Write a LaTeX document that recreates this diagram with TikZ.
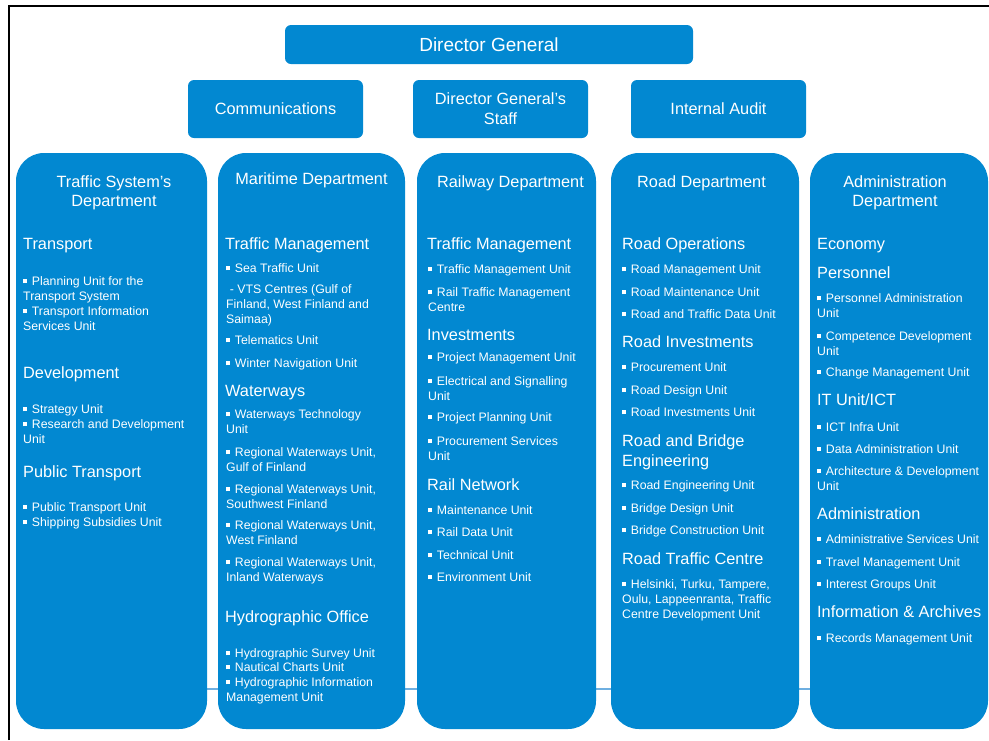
\documentclass[tikz,border=0pt]{standalone}
\usepackage{fontspec}
\setmainfont{Liberation Sans}

\definecolor{vblue}{RGB}{2,136,209}
\definecolor{vline}{RGB}{110,175,225}
\newcommand{\sq}{\rule[0.14em]{0.33em}{0.33em}\hspace{0.38em}}

\tikzset{
  topbox/.style={fill=vblue, rounded corners=6pt, text=white, inner sep=0pt,
    align=center, font=\fontsize{16.3}{20}\selectfont},
  colbox/.style={fill=vblue, rounded corners=28pt, inner sep=0pt},
  depttitle/.style={text=white, anchor=base, align=center, inner sep=0pt,
    font=\fontsize{16.3}{19.5}\selectfont},
  secthead/.style={text=white, anchor=base west, align=left, inner sep=0pt,
    font=\fontsize{16.3}{20}\selectfont},
  unititem/.style={text=white, anchor=base west, align=left, inner sep=0pt,
    font=\fontsize{12.3}{15}\selectfont},
}

\begin{document}
\begin{tikzpicture}[x=1pt,y=-1pt]
\useasboundingbox (0,0) rectangle (989,740);
\draw[line width=1.5pt] (9,740) -- (9,6) -- (989,6);

% line behind the departments
\coordinate (lineL) at (207,689);
\coordinate (lineR) at (810,689);
\draw[vline, line width=1.2pt] (lineL) -- (lineR);

% top level
\node[topbox, minimum width=408pt, minimum height=39pt, font=\fontsize{19}{22}\selectfont] (dg) at (489,44.5) {Director General};
\node[topbox, minimum width=175pt, minimum height=58pt] (comm) at (275.5,109) {Communications};
\node[topbox, minimum width=175pt, minimum height=58pt] (staff) at (500.5,109) {Director General's\\Staff};
\node[topbox, minimum width=175pt, minimum height=58pt] (audit) at (718.5,109) {Internal Audit};

% departments
\node[colbox, minimum width=191pt, minimum height=576pt] (col1) at (111.5,441) {};
\node[colbox, minimum width=187pt, minimum height=576pt] (col2) at (311.5,441) {};
\node[colbox, minimum width=179pt, minimum height=576pt] (col3) at (506.5,441) {};
\node[colbox, minimum width=188pt, minimum height=576pt] (col4) at (705,441) {};
\node[colbox, minimum width=178pt, minimum height=576pt] (col5) at (899,441) {};

% Traffic System's Department (multi-line nodes sit on their last line)
\node[depttitle] (t1) at (114,206.5) {Traffic System's\\Department};
\node[secthead] (s11) at (23,249) {Transport};
\node[unititem] (u111) at (23,300) {\sq Planning Unit for the\\Transport System};
\node[unititem] (u112) at (23,330) {\sq Transport Information\\Services Unit};
\node[secthead] (s12) at (23,378) {Development};
\node[unititem] (u121) at (23,413) {\sq Strategy Unit};
\node[unititem] (u122) at (23,443) {\sq Research and Development\\Unit};
\node[secthead] (s13) at (23,477) {Public Transport};
\node[unititem] (u131) at (23,511) {\sq Public Transport Unit};
\node[unititem] (u132) at (23,526) {\sq Shipping Subsidies Unit};

% Maritime Department
\node[depttitle] (t2) at (311.5,184) {Maritime Department};
\node[secthead] (s21) at (225,249) {Traffic Management};
\node[unititem] (u211) at (226,272) {\sq Sea Traffic Unit};
\node[unititem] (u212) at (226,323) {\hspace{0.3em}- VTS Centres (Gulf of\\Finland, West Finland and\\Saimaa)};
\node[unititem] (u213) at (226,344) {\sq Telematics Unit};
\node[unititem] (u214) at (226,367) {\sq Winter Navigation Unit};
\node[secthead] (s22) at (225,396) {Waterways};
\node[unititem] (u221) at (226,433) {\sq Waterways Technology\\Unit};
\node[unititem] (u222) at (226,471) {\sq Regional Waterways Unit,\\Gulf of Finland};
\node[unititem] (u223) at (226,508) {\sq Regional Waterways Unit,\\Southwest Finland};
\node[unititem] (u224) at (226,544) {\sq Regional Waterways Unit,\\West Finland};
\node[unititem] (u225) at (226,581) {\sq Regional Waterways Unit,\\Inland Waterways};
\node[secthead] (s23) at (225,622) {Hydrographic Office};
\node[unititem] (u231) at (226,657) {\sq Hydrographic Survey Unit};
\node[unititem] (u232) at (226,671) {\sq Nautical Charts Unit};
\node[unititem] (u233) at (226,701) {\sq Hydrographic Information\\Management Unit};

% Railway Department
\node[depttitle] (t3) at (510.5,187) {Railway Department};
\node[secthead] (s31) at (427,249) {Traffic Management};
\node[unititem] (u311) at (428,273) {\sq Traffic Management Unit};
\node[unititem] (u312) at (428,311) {\sq Rail Traffic Management\\Centre};
\node[secthead] (s32) at (427,340) {Investments};
\node[unititem] (u321) at (428,361) {\sq Project Management Unit};
\node[unititem] (u322) at (428,400) {\sq Electrical and Signalling\\Unit};
\node[unititem] (u323) at (428,421) {\sq Project Planning Unit};
\node[unititem] (u324) at (428,460) {\sq Procurement Services\\Unit};
\node[secthead] (s33) at (427,490) {Rail Network};
\node[unititem] (u331) at (428,514) {\sq Maintenance Unit};
\node[unititem] (u332) at (428,536) {\sq Rail Data Unit};
\node[unititem] (u333) at (428,559) {\sq Technical Unit};
\node[unititem] (u334) at (428,581) {\sq Environment Unit};

% Road Department
\node[depttitle] (t4) at (701.5,187) {Road Department};
\node[secthead] (s41) at (622,249) {Road Operations};
\node[unititem] (u411) at (622,273) {\sq Road Management Unit};
\node[unititem] (u412) at (622,296) {\sq Road Maintenance Unit};
\node[unititem] (u413) at (622,318) {\sq Road and Traffic Data Unit};
\node[secthead] (s42) at (622,347) {Road Investments};
\node[unititem] (u421) at (622,371) {\sq Procurement Unit};
\node[unititem] (u422) at (622,394) {\sq Road Design Unit};
\node[unititem] (u423) at (622,416) {\sq Road Investments Unit};
\node[secthead] (s43) at (622,466) {Road and Bridge\\Engineering};
\node[unititem] (u431) at (622,489) {\sq Road Engineering Unit};
\node[unititem] (u432) at (622,512) {\sq Bridge Design Unit};
\node[unititem] (u433) at (622,534) {\sq Bridge Construction Unit};
\node[secthead] (s44) at (622,564) {Road Traffic Centre};
\node[unititem] (u441) at (622,618) {\sq Helsinki, Turku, Tampere,\\Oulu, Lappeenranta, Traffic\\Centre Development Unit};

% Administration Department
\node[depttitle] (t5) at (895,206.5) {Administration\\Department};
\node[secthead] (s51) at (817,249) {Economy};
\node[secthead] (s52) at (817,278) {Personnel};
\node[unititem] (u521) at (817,317) {\sq Personnel Administration\\Unit};
\node[unititem] (u522) at (817,355) {\sq Competence Development\\Unit};
\node[unititem] (u523) at (817,376) {\sq Change Management Unit};
\node[secthead] (s53) at (817,405) {IT Unit/ICT};
\node[unititem] (u531) at (817,431) {\sq ICT Infra Unit};
\node[unititem] (u532) at (817,453) {\sq Data Administration Unit};
\node[unititem] (u533) at (817,490) {\sq Architecture \& Development\\Unit};
\node[secthead] (s54) at (817,519) {Administration};
\node[unititem] (u541) at (817,543) {\sq Administrative Services Unit};
\node[unititem] (u542) at (817,566) {\sq Travel Management Unit};
\node[unititem] (u543) at (817,588) {\sq Interest Groups Unit};
\node[secthead] (s55) at (817,617) {Information \& Archives};
\node[unititem] (u551) at (817,642) {\sq Records Management Unit};
\end{tikzpicture}
\end{document}
